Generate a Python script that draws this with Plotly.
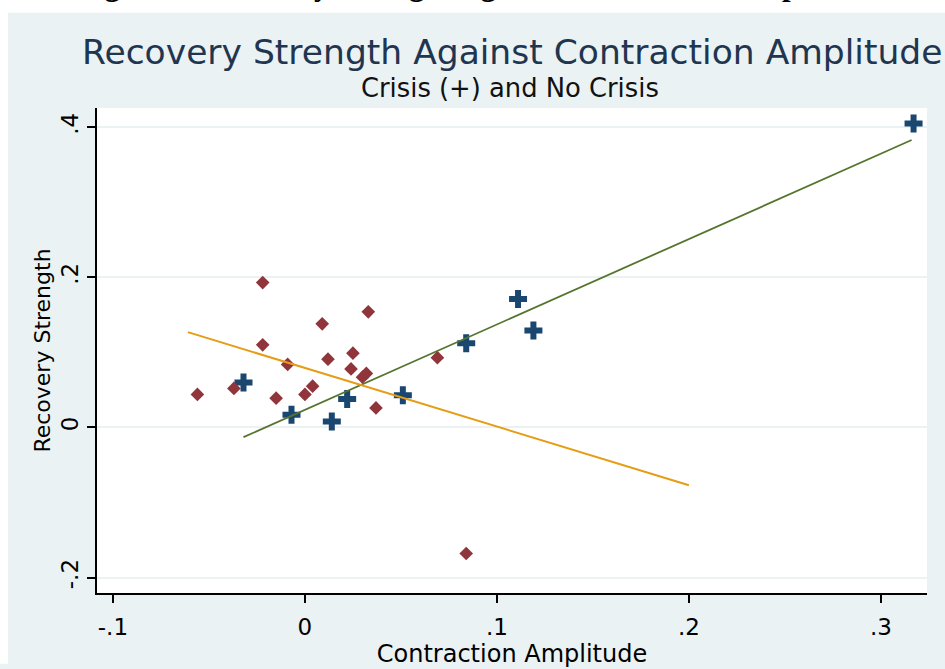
import plotly.graph_objects as go

# Crisis observations (+)
crisis_x = [-0.032, -0.007, 0.014, 0.022, 0.051, 0.084, 0.111, 0.119, 0.317]
crisis_y = [0.060, 0.017, 0.008, 0.038, 0.043, 0.112, 0.171, 0.129, 0.405]

# No-crisis observations (diamonds)
nocrisis_x = [-0.056, -0.037, -0.022, -0.022, -0.009, -0.015, 0.000, 0.004, 0.009,
              0.012, 0.024, 0.025, 0.030, 0.032, 0.033, 0.037, 0.069, 0.084]
nocrisis_y = [0.044, 0.052, 0.193, 0.110, 0.084, 0.039, 0.044, 0.055, 0.138,
              0.091, 0.078, 0.099, 0.067, 0.072, 0.154, 0.026, 0.093, -0.168]

# Fitted lines (endpoints)
fit_crisis_x = [-0.032, 0.316]
fit_crisis_y = [-0.013, 0.383]
fit_nocrisis_x = [-0.061, 0.200]
fit_nocrisis_y = [0.127, -0.077]

x_ticks = [-0.1, 0, 0.1, 0.2, 0.3]
x_tick_text = ["-.1", "0", ".1", ".2", ".3"]
y_ticks = [-0.2, 0, 0.2, 0.4]
y_tick_text = ["-.2", "0", ".2", ".4"]

BG = "#EAF2F3"
FONT = "DejaVu Sans, Verdana, sans-serif"

fig = go.Figure()
fig.add_trace(go.Scatter(x=crisis_x, y=crisis_y, mode="markers",
                         marker=dict(symbol="cross", size=15, color="#1A476F"),
                         showlegend=False))
fig.add_trace(go.Scatter(x=nocrisis_x, y=nocrisis_y, mode="markers",
                         marker=dict(symbol="diamond", size=10.5, color="#90353B"),
                         showlegend=False))
fig.add_trace(go.Scatter(x=fit_crisis_x, y=fit_crisis_y, mode="lines",
                         line=dict(color="#55752F", width=1.8), showlegend=False))
fig.add_trace(go.Scatter(x=fit_nocrisis_x, y=fit_nocrisis_y, mode="lines",
                         line=dict(color="#E69C14", width=2), showlegend=False))

L, R, T, B = 97, 18, 108, 67
W, H = 945, 669
pw, ph = W - L - R, H - T - B

def px_to_paper_x(px):
    return (px - L) / pw

def px_to_paper_y(py):
    return (H - B - py) / ph

fig.update_layout(
    width=W, height=H,
    margin=dict(l=L, r=R, t=T, b=B),
    paper_bgcolor=BG, plot_bgcolor="white",
    font=dict(family=FONT, color="black"),
    xaxis=dict(range=[-0.1083, 0.324], tickvals=x_ticks, ticktext=x_tick_text,
               showgrid=False, zeroline=False, showline=True, linecolor="black",
               linewidth=2, ticks="outside", ticklen=8, tickwidth=2, tickcolor="black",
               ticklabelstandoff=4,
               tickfont=dict(size=23, color="black"),
               title=dict(text="Contraction Amplitude", font=dict(size=24, color="black"), standoff=1)),
    yaxis=dict(range=[-0.2206, 0.4256], tickvals=y_ticks, ticktext=y_tick_text,
               showgrid=True, gridcolor=BG, gridwidth=1.5, zeroline=False,
               showline=True, linecolor="black", linewidth=2, ticks="outside",
               ticklen=8, tickwidth=2, tickcolor="black", tickangle=-90,
               tickfont=dict(size=23, color="black"),
               title=dict(text="Recovery Strength", font=dict(size=22, color="black"), standoff=0)),
    shapes=[
        dict(type="rect", xref="paper", yref="paper", layer="below",
             x0=px_to_paper_x(-5), x1=px_to_paper_x(W + 5),
             y0=px_to_paper_y(11), y1=px_to_paper_y(-5),
             fillcolor="white", line=dict(width=0)),
        dict(type="rect", xref="paper", yref="paper", layer="below",
             x0=px_to_paper_x(-5), x1=px_to_paper_x(8),
             y0=px_to_paper_y(H + 5), y1=px_to_paper_y(-5),
             fillcolor="white", line=dict(width=0)),
    ],
    annotations=[
        dict(text="<b>Figure 3: Recovery Strength Against Contraction Amplitude</b>",
             xref="paper", yref="paper", x=px_to_paper_x(476), y=px_to_paper_y(2.5),
             xanchor="center", yanchor="bottom", showarrow=False,
             font=dict(family="Liberation Serif, Times New Roman, serif", size=31, color="black")),
        dict(text="Recovery Strength Against Contraction Amplitude",
             xref="paper", yref="paper", x=px_to_paper_x(512), y=px_to_paper_y(51),
             xanchor="center", yanchor="middle", showarrow=False,
             font=dict(family=FONT, size=34.5, color="#1F3550")),
        dict(text="Crisis (+) and No Crisis",
             xref="paper", yref="paper", x=px_to_paper_x(510), y=px_to_paper_y(88),
             xanchor="center", yanchor="middle", showarrow=False,
             font=dict(family=FONT, size=25.8, color="#111111")),
    ],
)

fig.write_html("out.html", config={"displayModeBar": False},
               post_script="document.body.style.margin='0';")
